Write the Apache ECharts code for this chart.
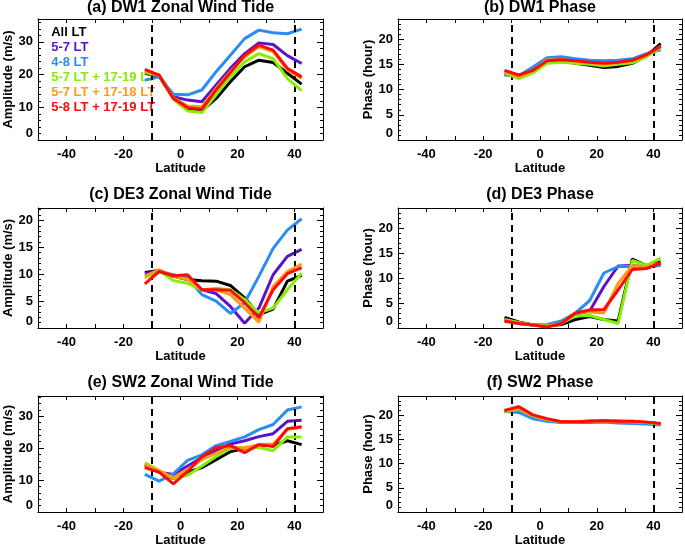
<!DOCTYPE html>
<html>
<head>
<meta charset="utf-8">
<script src="https://cdn.jsdelivr.net/npm/echarts@6/dist/echarts.min.js"></script>
<style>
html,body{margin:0;padding:0;background:#fff;}
#chart{width:685px;height:548px;}
</style>
</head>
<body>
<div id="chart"></div>
<script>
// ---- data ----
const latitudes = [-12.5, -7.5, -2.5, 2.5, 7.5, 12.5, 17.5, 22.5, 27.5, 32.5, 37.5, 42.5];
const seriesNames = ['All LT', '5-7 LT', '4-8 LT', '5-7 LT + 17-19 LT', '5-7 LT + 17-18 LT', '5-8 LT + 17-19 LT'];
const seriesColors = ['#000000', '#5a14c8', '#2a8cf5', '#84f000', '#ff9a14', '#ff0a0a'];
const xTickLabels = [-40, -20, 0, 20, 40];
const boundaryLatitudes = [-10, 40];

// order of each list follows seriesNames
const dw1Amplitude = [
  [20.4, 19.5, 12.7, 9.2, 8.9, 12.7, 17.8, 22.4, 24.4, 23.7, 20.4, 17.1],
  [20.9, 19.8, 13.2, 12.2, 11.7, 16.8, 21.9, 26.4, 29.7, 29.2, 25.8, 23.4],
  [18.3, 19.3, 14.0, 13.8, 15.3, 20.9, 25.9, 31.0, 33.6, 32.8, 32.5, 33.9],
  [20.6, 19.8, 12.5, 8.9, 8.4, 13.8, 19.3, 23.9, 26.4, 24.9, 18.8, 15.1],
  [21.1, 19.8, 12.9, 10.4, 10.2, 15.8, 20.9, 25.4, 28.5, 27.0, 21.4, 18.8],
  [21.6, 19.8, 12.7, 9.9, 9.4, 15.3, 20.6, 25.9, 29.0, 27.5, 21.9, 19.3]
];
const dw1Phase = [
  [13.1, 12.7, 13.7, 15.4, 15.6, 15.2, 14.8, 14.4, 14.6, 15.2, 16.7, 19.1],
  [13.2, 12.7, 14.2, 16.1, 16.1, 15.8, 15.6, 15.4, 15.6, 15.9, 17.0, 18.4],
  [12.9, 12.7, 14.5, 16.3, 16.5, 16.1, 15.8, 15.7, 15.8, 16.1, 17.1, 17.9],
  [13.3, 12.2, 13.3, 15.2, 15.4, 15.2, 15.0, 14.7, 15.0, 15.3, 16.5, 18.4],
  [13.5, 12.5, 13.8, 15.9, 15.9, 15.6, 15.3, 15.0, 15.3, 15.7, 16.8, 18.6],
  [13.8, 12.9, 13.8, 15.7, 15.9, 15.7, 15.4, 15.2, 15.4, 15.8, 16.9, 18.6]
];
const de3Amplitude = [
  [10.3, 10.7, 9.6, 9.0, 8.8, 8.7, 7.9, 5.6, 2.5, 3.5, 8.7, 9.8],
  [10.1, 10.7, 9.6, 9.3, 7.1, 6.4, 4.0, 0.9, 3.7, 9.9, 13.3, 14.6],
  [9.7, 10.5, 9.9, 9.3, 6.2, 5.0, 2.7, 4.7, 9.6, 14.8, 18.2, 20.3],
  [9.3, 10.7, 8.8, 8.3, 7.1, 7.4, 7.1, 5.3, 2.8, 3.7, 7.1, 10.2],
  [9.6, 10.8, 9.6, 9.0, 7.1, 7.1, 6.2, 3.7, 1.1, 7.7, 10.5, 11.9],
  [8.2, 10.5, 9.7, 9.9, 7.1, 7.1, 7.0, 4.7, 1.9, 7.1, 10.1, 11.2]
];
const de3Phase = [
  [2.1, 1.2, 0.6, 0.4, 0.7, 1.7, 2.3, 1.7, 1.4, 13.8, 12.5, 13.2],
  [1.6, 1.1, 0.6, 0.4, 0.9, 2.7, 3.4, 8.3, 12.4, 12.5, 12.2, 12.8],
  [1.4, 0.9, 0.6, 0.7, 1.4, 3.0, 5.5, 11.0, 12.3, 12.3, 12.3, 12.5],
  [1.7, 1.1, 0.6, 0.4, 0.9, 2.4, 2.5, 1.7, 0.9, 13.5, 12.5, 14.0],
  [1.5, 0.9, 0.6, 0.3, 0.9, 3.0, 3.2, 3.0, 8.9, 12.5, 12.2, 13.0],
  [1.4, 0.9, 0.6, 0.2, 0.9, 3.0, 3.6, 3.7, 7.6, 11.7, 11.9, 13.0]
];
const sw2Amplitude = [
  [14.9, 12.5, 10.5, 12.5, 13.9, 16.4, 18.9, 19.9, 20.8, 20.8, 22.3, 21.1],
  [14.4, 12.5, 11.8, 14.4, 17.1, 19.2, 21.3, 22.3, 23.6, 24.5, 28.4, 28.7],
  [11.8, 9.7, 12.0, 16.2, 17.9, 20.8, 22.1, 23.5, 25.8, 27.4, 31.9, 32.9],
  [15.4, 13.0, 10.5, 11.5, 14.4, 17.4, 19.9, 20.0, 20.3, 19.2, 23.5, 23.5],
  [14.9, 13.0, 10.7, 13.4, 16.4, 18.4, 20.3, 20.1, 21.1, 21.3, 25.8, 26.5],
  [13.9, 12.5, 8.8, 12.7, 17.4, 20.1, 20.8, 18.6, 21.1, 20.5, 26.1, 26.7]
];
const sw2Phase = [
  [20.8, 21.1, 19.8, 19.0, 18.7, 18.7, 18.8, 18.9, 18.8, 18.7, 18.5, 18.2],
  [20.8, 20.9, 19.7, 18.9, 18.6, 18.6, 18.7, 18.8, 18.7, 18.6, 18.4, 18.2],
  [20.8, 20.6, 19.3, 18.8, 18.5, 18.5, 18.5, 18.6, 18.4, 18.3, 18.2, 18.0],
  [20.7, 21.3, 19.9, 19.1, 18.7, 18.7, 18.8, 18.9, 18.8, 18.7, 18.5, 18.2],
  [20.9, 21.4, 20.0, 19.2, 18.7, 18.7, 18.8, 18.9, 18.8, 18.8, 18.6, 18.3],
  [21.0, 21.8, 20.1, 19.3, 18.7, 18.7, 18.8, 18.9, 18.8, 18.8, 18.6, 18.3]
];

const panelTitles = ['(a) DW1 Zonal Wind Tide', '(b) DW1 Phase', '(c) DE3 Zonal Wind Tide', '(d) DE3 Phase', '(e) SW2 Zonal Wind Tide', '(f) SW2 Phase'];
const panelData = [dw1Amplitude, dw1Phase, de3Amplitude, de3Phase, sw2Amplitude, sw2Phase];
const yAxisNames = ['Amplitude (m/s)', 'Phase (hour)', 'Amplitude (m/s)', 'Phase (hour)', 'Amplitude (m/s)', 'Phase (hour)'];
const yMaxValues = [37, 24, 22.3, 24, 36.3, 24];
const yTickSteps = [10, 5, 5, 5, 10, 5];

// ---- layout ----
const FONT = 'Liberation Sans, Arial, Helvetica, sans-serif';
const grids = [
  {left: 38, top: 19, width: 285, height: 121},
  {left: 398, top: 19, width: 284, height: 121},
  {left: 38, top: 208, width: 285, height: 120},
  {left: 398, top: 208, width: 284, height: 120},
  {left: 38, top: 396, width: 285, height: 121},
  {left: 398, top: 396, width: 284, height: 121}
];
const titleTops = [0, 0, 187, 187, 375, 375];

const axisLineStyle = {show: true, onZero: false, lineStyle: {color: '#000', width: 1}};
const xAxes = [], yAxes = [], series = [], titles = [];

grids.forEach((g, i) => {
  titles.push({
    text: panelTitles[i], left: g.left + g.width / 2, top: titleTops[i], textAlign: 'center', padding: 0,
    textStyle: {fontFamily: FONT, fontWeight: 'bold', fontSize: 16, color: '#000'}
  });
  const xBase = {
    gridIndex: i, type: 'value', min: -50, max: 50, interval: 10,
    axisLine: axisLineStyle, splitLine: {show: false},
    axisTick: {show: true, inside: true, length: 4, lineStyle: {color: '#000'}}
  };
  xAxes.push(Object.assign({}, xBase, {
    position: 'bottom',
    name: 'Latitude', nameLocation: 'middle', nameGap: 18,
    nameTextStyle: {fontFamily: FONT, fontWeight: 'bold', fontSize: 13, color: '#000'},
    axisLabel: {
      margin: 8, fontFamily: FONT, fontWeight: 'bold', fontSize: 13, color: '#000',
      formatter: v => xTickLabels.indexOf(v) >= 0 ? String(v) : ''
    }
  }));
  xAxes.push(Object.assign({}, xBase, {position: 'top', axisLabel: {show: false}}));

  const step = yTickSteps[i];
  const yBase = {
    gridIndex: i, type: 'value', min: 0, max: yMaxValues[i], interval: step,
    axisLine: axisLineStyle, splitLine: {show: false},
    axisTick: {show: true, inside: true, length: 6, lineStyle: {color: '#000'}},
    minorTick: {show: true, splitNumber: 5, length: 3, lineStyle: {color: '#000'}},
    minorSplitLine: {show: false}
  };
  yAxes.push(Object.assign({}, yBase, {
    position: 'left',
    name: yAxisNames[i], nameLocation: 'middle', nameGap: 23,
    nameTextStyle: {fontFamily: FONT, fontWeight: 'bold', fontSize: 13, color: '#000'},
    axisLabel: {
      margin: 5, fontFamily: FONT, fontWeight: 'bold', fontSize: 13, color: '#000',
      verticalAlignMinLabel: 'bottom',
      formatter: v => (Math.abs(v / step - Math.round(v / step)) < 1e-6) ? String(v) : ''
    }
  }));
  yAxes.push(Object.assign({}, yBase, {position: 'right', axisLabel: {show: false}}));

  panelData[i].forEach((vals, k) => {
    const s = {
      name: seriesNames[k], type: 'line', xAxisIndex: 2 * i, yAxisIndex: 2 * i,
      data: latitudes.map((lat, j) => [lat, vals[j]]),
      showSymbol: false, symbol: 'none', smooth: false, silent: true,
      lineStyle: {color: seriesColors[k], width: 3},
      itemStyle: {color: seriesColors[k]},
      z: 2 + k
    };
    if (k === 0) {
      s.markLine = {
        silent: true, symbol: 'none', label: {show: false}, animation: false,
        lineStyle: {color: '#000', type: [7, 5], width: 2},
        data: boundaryLatitudes.map(v => ({xAxis: v}))
      };
    }
    series.push(s);
  });
});

const option = {
  animation: false,
  backgroundColor: '#fff',
  title: titles,
  grid: grids,
  xAxis: xAxes,
  yAxis: yAxes,
  legend: {
    show: true, orient: 'vertical', left: 41, top: 26, padding: 0,
    itemWidth: 0, itemHeight: 13, itemGap: 2, selectedMode: false,
    itemStyle: {opacity: 0}, lineStyle: {opacity: 0},
    textStyle: {fontFamily: FONT, fontWeight: 'bold', fontSize: 13},
    data: seriesNames.map((n, k) => ({name: n, textStyle: {color: seriesColors[k]}}))
  },
  series: series
};

const chart = echarts.init(document.getElementById('chart'), null, {renderer: 'canvas'});
chart.setOption(option);
</script>
</body>
</html>
